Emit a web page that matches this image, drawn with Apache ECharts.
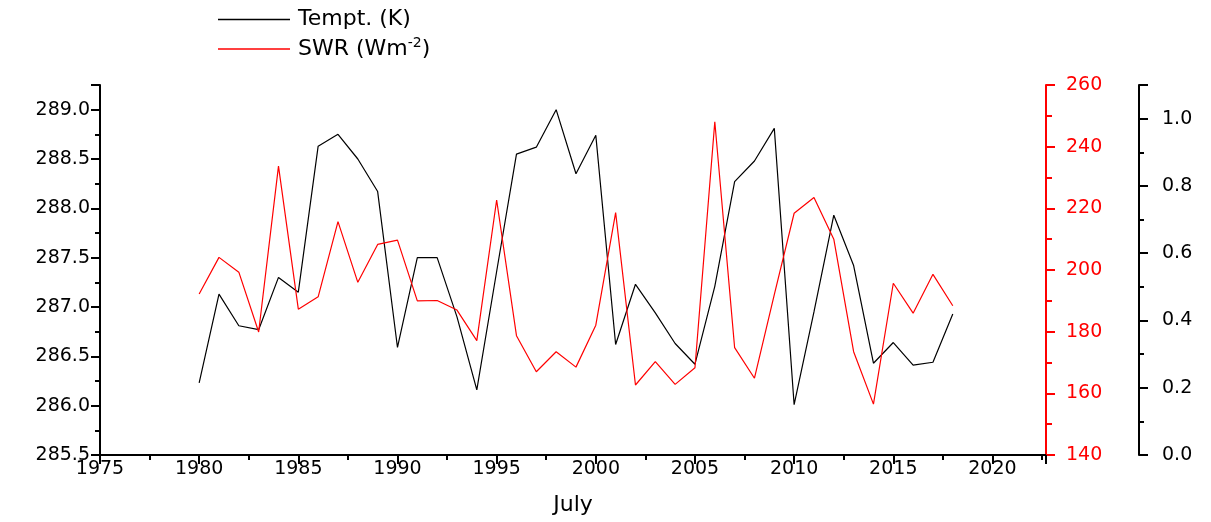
<!DOCTYPE html>
<html>
<head>
<meta charset="utf-8">
<script src="https://cdn.jsdelivr.net/npm/echarts@6/dist/echarts.min.js"></script>
<style>
html,body{margin:0;padding:0;background:#fff;}
#chart{width:1211px;height:522px;}
</style>
</head>
<body>
<div id="chart"></div>
<script>
const years = [1980,1981,1982,1983,1984,1985,1986,1987,1988,1989,1990,1991,1992,1993,1994,1995,1996,1997,1998,1999,2000,2001,2002,2003,2004,2005,2006,2007,2008,2009,2010,2011,2012,2013,2014,2015,2016,2017,2018];
const tempK = [286.23,287.13,286.81,286.77,287.30,287.15,288.63,288.75,288.50,288.17,286.59,287.50,287.50,286.90,286.16,287.36,288.55,288.62,289.00,288.35,288.74,286.62,287.23,286.94,286.63,286.42,287.21,288.27,288.48,288.81,286.01,286.95,287.93,287.42,286.43,286.64,286.41,286.44,286.93];
const swr = [192.2,204.1,199.3,179.9,233.7,187.3,191.3,215.7,196.0,208.3,209.7,190.0,190.1,187.0,177.1,222.7,178.7,167.0,173.5,168.5,182.1,218.6,162.7,170.3,162.9,168.3,248.1,174.8,164.9,192.0,218.4,223.5,210.0,173.5,156.5,195.7,186.0,198.6,188.4];
const seriesNames = ['Tempt. (K)', 'SWR (Wm-2)'];
const xAxisName = 'July';

const chart = echarts.init(document.getElementById('chart'));
const fontFamily = '"DejaVu Sans", "Liberation Sans", Arial, sans-serif';
const axisCommon = {
  axisLine: {show: true, lineStyle: {color: '#000', width: 2}},
  axisTick: {show: true, inside: false, length: 9, lineStyle: {color: '#000', width: 2}},
  minorTick: {show: true, splitNumber: 2, length: 5, lineStyle: {color: '#000', width: 2}},
  splitLine: {show: false},
  minorSplitLine: {show: false}
};
chart.setOption({
  animation: false,
  backgroundColor: '#fff',
  textStyle: {fontFamily: fontFamily},
  grid: {left: 100, right: 165, top: 85, bottom: 67, containLabel: false},
  legend: {
    orient: 'vertical',
    left: 213,
    top: 2,
    icon: 'rect',
    itemWidth: 72,
    itemHeight: 1.5,
    itemGap: 4,
    data: seriesNames,
    textStyle: {fontSize: 22, color: '#000', fontFamily: fontFamily, lineHeight: 25, padding: [0, 0, 0, 3],
      rich: {
        a: {fontSize: 22, color: '#000', fontFamily: fontFamily},
        s: {fontSize: 14, color: '#000', fontFamily: fontFamily, padding: [0, 0, 12, 0]}
      }
    },
    formatter: function (name) {
      if (name === 'SWR (Wm-2)') return '{a|SWR (Wm}{s|-2}{a|)}';
      return '{a|' + name + '}';
    }
  },
  xAxis: Object.assign({}, axisCommon, {
    type: 'value',
    min: 1975,
    max: 2022.7,
    interval: 5,
    name: xAxisName,
    nameLocation: 'middle',
    nameGap: 39,
    nameTextStyle: {fontSize: 22, color: '#000', fontFamily: fontFamily},
    axisLabel: {fontSize: 19, color: '#000', margin: 5, showMaxLabel: false,
      formatter: function (v) { return String(Math.round(v)); }}
  }),
  yAxis: [
    Object.assign({}, axisCommon, {
      type: 'value',
      position: 'left',
      min: 285.5,
      max: 289.25,
      interval: 0.5,
      axisLabel: {fontSize: 19, color: '#000', margin: 10, showMaxLabel: false,
        formatter: function (v) { return v.toFixed(1); }}
    }),
    Object.assign({}, axisCommon, {
      type: 'value',
      position: 'right',
      min: 140,
      max: 260,
      interval: 20,
      axisLine: {show: true, lineStyle: {color: '#ff0000', width: 2}},
      axisTick: {show: true, length: 9, lineStyle: {color: '#ff0000', width: 2}},
      minorTick: {show: true, splitNumber: 2, length: 6, lineStyle: {color: '#ff0000', width: 2}},
      axisLabel: {fontSize: 19, color: '#ff0000', margin: 20}
    }),
    Object.assign({}, axisCommon, {
      type: 'value',
      position: 'right',
      offset: 93,
      min: 0,
      max: 1.1,
      interval: 0.2,
      axisLabel: {fontSize: 19, color: '#000', margin: 23, showMaxLabel: false,
        formatter: function (v) { return v.toFixed(1); }}
    })
  ],
  series: [
    {
      name: seriesNames[0],
      type: 'line',
      yAxisIndex: 0,
      data: years.map((y, i) => [y, tempK[i]]),
      showSymbol: false,
      symbol: 'none',
      lineStyle: {color: '#000', width: 1.2},
      itemStyle: {color: '#000'}
    },
    {
      name: seriesNames[1],
      type: 'line',
      yAxisIndex: 1,
      data: years.map((y, i) => [y, swr[i]]),
      showSymbol: false,
      symbol: 'none',
      lineStyle: {color: '#ff0000', width: 1.2},
      itemStyle: {color: '#ff0000'}
    }
  ]
});
</script>
</body>
</html>
